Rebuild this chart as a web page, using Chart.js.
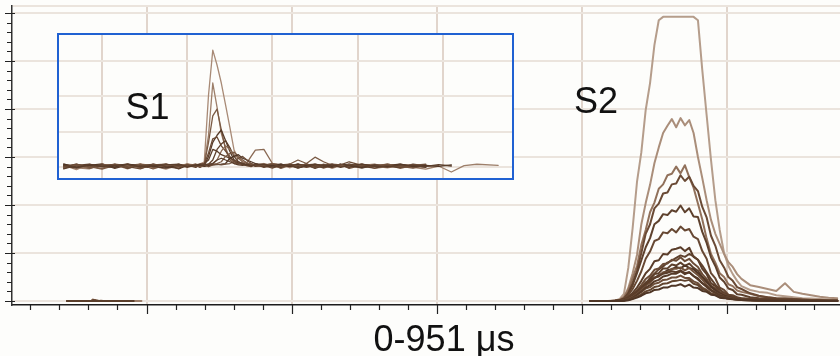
<!DOCTYPE html>
<html>
<head>
<meta charset="utf-8">
<script src="https://cdn.jsdelivr.net/npm/chart.js@4.4.1/dist/chart.umd.min.js"></script>
<style>
  html, body { margin: 0; padding: 0; background: #fdfdfb; overflow: hidden; }
  #wrap { position: relative; width: 840px; height: 356px; }
  #main { position: absolute; left: 0; top: 0; }
  #inset {
    position: absolute; left: 57px; top: 33px; width: 457px; height: 147px;
    box-sizing: border-box; border: 2px solid #2061d2; background: #fdfdfb;
  }
  #inset canvas { display: block; }
</style>
</head>
<body>
<div id="wrap">
  <canvas id="main" width="840" height="356"></canvas>
  <div id="inset"><canvas id="zoom" width="453" height="143"></canvas></div>
</div>
<script>
// ---- S2 window: sample times and pulse amplitudes ----
const S2_T = [406, 412, 418, 420, 423, 426, 429, 432, 435, 438, 441, 444, 447, 450, 453, 456, 459, 462, 465, 468,
              471, 474, 477, 480, 483, 486, 489, 492, 495, 498, 501, 504, 507, 510, 516, 522, 528, 534, 540, 546,
              552, 558, 564, 570, 576];

const S2_A = [0,0,0,0.5,1,4,15,69,152,248, 310,398,454,533,585,592,592,592,592,592, 592,592,592,585,481,387,294,210,148,100, 73,56,42,31,23,19,17,12,10,8, 6,5,4,3,2];
const S2_B = [0,0,0,0,1,3,8,27,58,96, 160,204,242,287,320,350,365,379,362,381, 366,377,350,300,256,210,169,140,119,98, 81,71,56,46,33,29,25,21,37,19, 15,12,9,7,6];
const S2_C = [0,0,0,0,0.5,2,8,23,48,73, 117,148,185,205,234,243,262,265,280,266, 283,258,236,203,170,130,98,80,58,50, 35,31,22,19,15,10,8,6,5,4, 3,2,2,1,1];
const S2_D = [0,0,0,0,0.5,1.5,5,17,38,63, 100,140,160,193,203,224,226,243,245,262, 250,259,240,229,196,174,136,115,85,70, 50,42,29,25,16,11,8,6,5,4, 3,2,2,1,1];
const S2_E = [0,0,0,0,0.5,1.5,5,15,33,58, 85,112,131,160,167,181,179,189,186,199, 185,193,176,175,144,121,91,73,49,40, 26,23,14,13,8,6,5,4,3,3, 2,2,1,1,1];
const S2_F = [0,0,0,0,0.5,1,4,12,25,42, 62,88,103,125,129,143,141,150,143,155, 147,150,134,129,104,88,58,47,28,23, 13,12,8,6,4,3,2,2,1,1, 1,0.5,0.5,0.5,0.5];
const S2_G = [0,0,0,0,0,1,3,8,17,28, 42,58,67,83,85,98,97,107,109,112, 104,111,92,86,67,56,37,31,19,16, 10,9,6,4,3,2,2,1,1,1, 0.5,0.5,0.5,0,0];
const S2_H = [0,0,0,0,0,1,2,6,13,22, 33,46,53,65,68,77,78,86,84,91, 83,88,78,71,56,46,32,26,17,14, 9,7,5,4,3,2,1.5,1,1,0.5, 0.5,0.5,0,0,0];
const S2_I = [0,0,0,0,0,0.5,2,5,11,19, 28,39,44,56,58,68,68,76,74,80, 73,78,69,63,50,42,29,24,16,12, 9,7,5,4,3,2,1.5,1,1,0.5, 0.5,0,0,0,0];
const S2_J = [0,0,0,0,0,0.5,1.5,4,9,16, 24,33,38,49,51,60,60,67,67,70, 64,69,61,54,45,33,24,18,13,9, 7,5,4,3,2,1.5,1,1,0.5,0.5, 0,0,0,0,0];
const S2_K = [0,0,0,0,0,0.5,1,3,7,13, 20,28,33,41,44,51,53,57,57,62, 56,60,52,47,37,31,22,18,11,9, 6,5,4,3,2,1.5,1,1,0.5,0.5, 0,0,0,0,0];
const S2_L = [0,0,0,0,0,0,1,2,5,9, 14,20,23,29,31,36,37,41,42,44, 42,44,36,33,25,22,15,13,8,7, 5,4,3,2,1.5,1,1,0.5,0.5,0, 0,0,0,0,0];
const S2_M = [0,0,0,0,0,0,0.5,1.5,4,7, 11,16,18,23,24,28,28,32,32,35, 30,34,28,27,21,19,13,12,7,6, 4.5,3.5,3,2,1.5,1,1,0.5,0.5,0, 0,0,0,0,0];
const S2_N = [0,0,0,0,0,0.5,1.5,4,8,13, 19,26,29,36,38,44,45,49,49,53, 48,48,41,37,28,23,16,14,9,7, 5,4,3,2,1.5,1,1,0.5,0.5,0, 0,0,0,0,0];
const S2_O = [0,0,0,0,0,0.5,1.5,4,9,16, 26,36,48,57,66,72,80,84,90,95, 92,98,93,86,74,60,46,34,24,17, 12,9,7,5,4,3,2,1.5,1,1, 0.5,0.5,0,0,0];
const S2_P = [0,0,0,0,0,0.5,2,5,10,17, 25,33,41,48,54,58,64,66,71,68, 74,69,66,58,49,39,30,22,16,11, 8,6,4,3,2,1.5,1,1,0.5,0.5, 0,0,0,0,0];
const S2_Q = [0,0,0,0,0.5,1,3,7,13,20, 28,35,42,48,52,57,59,62,60,64, 58,60,52,45,37,29,22,16,12,8, 6,4,3,2,1.5,1,1,0.5,0.5,0, 0,0,0,0,0];

// ---- S1 window: sample times and pulse amplitudes (null = trace ended) ----
const S1_T = [45.5, 47, 48.5, 50, 51.5, 53, 54.5, 56, 57.5, 59, 60, 61, 61.5, 62, 62.5, 63, 63.5, 64, 64.5, 65,
              65.5, 66, 66.5, 67, 67.5, 68, 69, 70, 71, 72, 73, 74, 75, 76, 77, 78, 79, 80.5, 82, 83.5,
              85, 86.5, 88, 89.5, 91, 92.5, 94, 96.5];

const S1_A = [0.05,-0.07,0.08,0.0,0.06,-0.05,0.09,0.03,-0.06,0.05, 0.08,0.06,0.09,0.14,2.04,3.31,2.89,2.38,1.76,1.13, 0.48,0.25,0.15,0.1,0.08,0.05,0.1,0.02,0.07,-0.02, 0.06,0.0,0.05,0.07,-0.04,0.05,0.01,0.07,0.03,-0.02, 0.05,0.01,0.06,null,null,null,null,null];
const S1_B = [0.06,-0.02,-0.05,0.08,0.01,0.09,-0.04,0.05,0.03,-0.01, 0.09,0.03,0.07,0.12,0.9,2.38,1.7,0.95,0.55,0.25, 0.12,0.1,0.08,0.06,0.07,0.03,0.1,0.02,-0.02,0.08, 0.02,0.09,0.01,0.05,-0.01,0.06,0.02,0.08,-0.04,0.01, 0.06,-0.01,-0.06,0.03,-0.14,0.04,0.08,0.05];
const S1_C = [-0.04,0.07,0.01,-0.06,0.05,-0.01,0.08,-0.05,0.06,0.01, 0.03,0.08,0.04,0.07,0.7,1.45,1.64,1.05,0.5,0.2, 0.1,0.14,0.06,0.04,0.09,0.03,0.02,0.08,-0.04,0.05, 0.08,0.01,0.06,-0.03,0.05,0.02,0.08,-0.01,0.05,0.06, -0.04,0.05,0.01,null,null,null,null,null];
const S1_D = [0.08,0.01,0.05,0.09,-0.04,0.06,0.02,-0.02,0.08,-0.05, 0.05,0.02,0.06,0.04,0.3,0.7,0.9,1.05,0.75,0.45, 0.2,0.1,0.08,0.05,0.03,0.09,0.02,0.06,-0.01,0.08, 0.02,0.06,-0.04,0.05,0.08,0.01,0.05,-0.03,0.06,0.02, -0.01,0.08,0.03,null,null,null,null,null];
const S1_E = [-0.01,0.08,-0.04,0.05,0.07,0.01,-0.05,0.08,0.02,0.06, -0.01,0.06,0.02,0.08,0.4,0.8,0.85,0.6,0.45,0.3, 0.15,0.08,0.12,0.04,0.01,0.08,0.04,-0.03,0.06,0.02, 0.08,-0.01,0.05,0.06,0.0,0.08,-0.04,0.05,0.01,0.08, 0.02,-0.03,0.06,null,null,null,null,null];
const S1_F = [0.03,-0.03,0.06,0.02,0.08,-0.04,0.05,0.06,-0.01,0.08, 0.02,0.05,-0.01,0.06,0.08,0.2,0.5,0.65,0.75,0.55, 0.3,0.15,0.1,0.06,0.07,0.02,0.06,0.09,0.01,0.05, -0.03,0.06,0.08,0.02,-0.01,0.05,0.08,0.02,-0.03,0.05, 0.08,0.02,0.0,null,null,null,null,null];
const S1_G = [0.06,0.02,-0.02,0.08,0.02,0.05,0.08,-0.03,0.05,0.02, 0.08,0.01,0.06,0.02,0.07,0.1,0.2,0.45,0.6,0.5, 0.35,0.25,0.15,0.12,0.3,0.48,0.5,0.1,0.06,0.02, 0.06,0.04,-0.01,0.08,0.02,0.06,0.0,0.05,0.08,-0.01, 0.05,0.06,0.02,0.04,null,null,null,null];
const S1_H = [-0.05,0.05,0.08,0.01,-0.01,0.06,0.02,0.08,0.01,-0.04, 0.06,-0.01,0.08,0.1,0.2,0.5,0.45,0.35,0.3,0.25, 0.2,0.15,0.1,0.06,0.05,0.08,-0.01,0.05,0.08,0.01, 0.05,0.08,0.02,-0.01,0.06,0.04,-0.01,0.08,0.02,0.05, 0.0,0.06,-0.01,null,null,null,null,null];
const S1_I = [0.01,0.06,0.02,-0.04,0.08,0.04,-0.01,0.06,0.08,0.02, 0.04,0.08,0.01,0.05,0.06,0.08,0.1,0.15,0.3,0.38, 0.42,0.3,0.2,0.12,0.08,0.06,0.05,0.1,0.06,0.08, 0.2,0.1,0.28,0.15,0.05,0.03,0.06,0.0,0.04,0.08, 0.02,-0.01,0.05,null,null,null,null,null];
const S1_J = [0.08,-0.01,0.05,0.06,0.0,0.08,0.04,0.02,-0.03,0.06, 0.01,0.05,0.08,0.02,0.04,0.06,0.07,0.08,0.1,0.25, 0.3,0.35,0.25,0.2,0.15,0.1,0.06,0.03,0.08,0.02, 0.08,0.04,0.0,0.06,0.02,0.08,0.04,-0.01,0.06,0.02, 0.08,0.01,0.05,0.02,0.06,null,null,null];
const S1_K = [0.02,0.08,0.0,0.05,0.06,-0.02,0.06,0.04,0.08,0.02, 0.06,0.02,0.05,0.08,0.01,0.06,0.08,0.06,0.08,0.1, 0.15,0.25,0.3,0.2,0.1,0.06,0.04,0.08,0.02,0.06, 0.04,0.08,0.0,0.05,0.08,0.06,0.15,0.05,0.02,0.06, 0.0,0.05,0.08,null,null,null,null,null];
const S1_L = [0.05,0.0,0.06,0.02,0.05,0.08,0.0,0.05,0.06,0.08, 0.01,0.06,0.04,0.06,0.08,0.1,0.2,0.25,0.2,0.15, 0.1,0.06,0.05,0.09,0.03,0.06,0.08,0.0,0.05,0.06, -0.02,0.02,0.08,0.04,0.06,-0.01,0.05,0.08,0.02,0.0, 0.06,0.04,0.02,0.07,0.03,null,null,null];

// Axis tick values (no labels are shown)
const X_TICKS = [];
for (let v = 20; v <= 560; v += 20) X_TICKS.push(v);
const Y_TICKS = [];
for (let v = 0; v <= 600; v += 20) Y_TICKS.push(v);
const ZOOM_X_TICKS = [50, 60, 70, 80, 90];
const ZOOM_Y_TICKS = [0, 1, 2, 3];

// Text
const AXIS_TITLE = '0-951 μs';
const S1_LABEL = 'S1';
const S2_LABEL = 'S2';

// ---- styling ----
const S2_LIST = [
  [S2_M, '#4f3626'], [S2_L, '#62452f'], [S2_K, '#553a28'], [S2_N, '#6e4f3a'], [S2_Q, '#5a3d2a'],
  [S2_J, '#70513b'], [S2_P, '#4f3626'], [S2_I, '#5c3f2b'], [S2_H, '#6b4c37'], [S2_O, '#5e412d'],
  [S2_G, '#5a3d2a'], [S2_F, '#674833'], [S2_E, '#5e412d'], [S2_D, '#6a4a35'], [S2_C, '#91715b'],
  [S2_B, '#aa8e7a'], [S2_A, '#b59d8b']
];
const S1_LIST = [
  [S1_L, '#5a3e2b'], [S1_K, '#6b4c37'], [S1_J, '#4f3626'], [S1_I, '#7a5a44'], [S1_H, '#5c3f2c'],
  [S1_G, '#8a6a54'], [S1_F, '#5e412d'], [S1_E, '#6a4a35'], [S1_D, '#553a28'], [S1_C, '#7a5a44'],
  [S1_B, '#9d7f6a'], [S1_A, '#a88a76']
];

const FONT = "'Liberation Sans', Arial, sans-serif";
const GRID_H = '#ebe4dd';
const GRID_V = '#e1d5cc';
const CLEAR = 'rgba(0,0,0,0)';

function points(ts, vs) {
  const out = [];
  ts.forEach((t, i) => { if (vs[i] !== null && vs[i] !== undefined) out.push({ x: t, y: vs[i] }); });
  return out;
}
function lineSet(ts, vs, color, width) {
  return { data: points(ts, vs), borderColor: color, borderWidth: width, pointRadius: 0,
           tension: 0, borderJoinStyle: 'round', borderCapStyle: 'round', fill: false };
}

// main plot ranges
const X_MIN = 7.3, X_MAX = 577.9;
const Y_MIN = -8.3, Y_MAX = 614.6;

const mainTicks = {
  id: 'mainTicks',
  afterDraw(chart) {
    const { ctx, chartArea: a, scales: { x, y } } = chart;
    ctx.save();
    ctx.strokeStyle = '#222';
    ctx.lineWidth = 1.2;
    ctx.beginPath();
    X_TICKS.forEach(v => {
      const px = Math.round(x.getPixelForValue(v)) + 0.5;
      const len = v % 100 === 0 ? 9 : 5;
      ctx.moveTo(px, a.bottom);
      ctx.lineTo(px, a.bottom + len);
    });
    Y_TICKS.forEach(v => {
      const py = Math.round(y.getPixelForValue(v)) + 0.5;
      const major = v % 100 === 0;
      ctx.moveTo(a.left - (major ? 7 : 5), py);
      ctx.lineTo(a.left + (major ? 3 : 0), py);
    });
    ctx.stroke();
    // axis title and pulse label
    ctx.fillStyle = '#111';
    ctx.font = '36px ' + FONT;
    ctx.textBaseline = 'alphabetic';
    ctx.textAlign = 'center';
    ctx.fillText(AXIS_TITLE, 444, 351);
    ctx.textAlign = 'left';
    ctx.fillText(S2_LABEL, 574, 113);
    ctx.restore();
  }
};

const datasetsMain = [];
S1_LIST.forEach(([vs, c]) => datasetsMain.push(lineSet(S1_T, vs, c, 2)));
S2_LIST.forEach(([vs, c]) => datasetsMain.push(lineSet(S2_T, vs, c, 2)));

new Chart(document.getElementById('main'), {
  type: 'line',
  data: { datasets: datasetsMain },
  options: {
    responsive: false, animation: false, devicePixelRatio: 1,
    layout: { padding: { left: 12, top: 6, right: 0, bottom: 51 } },
    plugins: { legend: { display: false }, tooltip: { enabled: false } },
    scales: {
      x: {
        type: 'linear', min: X_MIN, max: X_MAX,
        afterBuildTicks: s => { s.ticks = X_TICKS.map(v => ({ value: v })); },
        ticks: { display: false },
        grid: { drawTicks: false, lineWidth: 2,
                color: c => (c.tick && c.tick.value % 100 === 0) ? GRID_V : CLEAR },
        border: { display: true, color: '#1c1c1c', width: 1.5 }
      },
      y: {
        type: 'linear', min: Y_MIN, max: Y_MAX,
        afterBuildTicks: s => { s.ticks = Y_TICKS.map(v => ({ value: v })).concat([{ value: Y_MAX }]); },
        ticks: { display: false },
        grid: { drawTicks: false, lineWidth: 2,
                color: c => (c.tick && (c.tick.value % 100 === 0 || c.tick.value === Y_MAX)) ? GRID_H : CLEAR },
        border: { display: true, color: '#333', width: 1.5 }
      }
    }
  },
  plugins: [mainTicks]
});

// ---- magnified S1 view ----
const zoomLabel = {
  id: 'zoomLabel',
  afterDraw(chart) {
    const { ctx } = chart;
    ctx.save();
    ctx.fillStyle = '#111';
    ctx.font = '36px ' + FONT;
    ctx.textBaseline = 'alphabetic';
    ctx.textAlign = 'left';
    ctx.fillText(S1_LABEL, 66.6, 84.3);
    ctx.restore();
  }
};

new Chart(document.getElementById('zoom'), {
  type: 'line',
  data: { datasets: S1_LIST.map(([vs, c]) => lineSet(S1_T, vs, c, 1.3)) },
  options: {
    responsive: false, animation: false, devicePixelRatio: 1,
    layout: { padding: 0 },
    plugins: { legend: { display: false }, tooltip: { enabled: false } },
    scales: {
      x: {
        type: 'linear', min: 44.95, max: 98.12,
        afterBuildTicks: s => { s.ticks = ZOOM_X_TICKS.map(v => ({ value: v })); },
        ticks: { display: false },
        grid: { drawTicks: false, lineWidth: 2, color: GRID_V },
        border: { display: false }
      },
      y: {
        type: 'linear', min: -0.31, max: 3.74,
        afterBuildTicks: s => { s.ticks = ZOOM_Y_TICKS.map(v => ({ value: v })); },
        ticks: { display: false },
        grid: { drawTicks: false, lineWidth: 2, color: GRID_H },
        border: { display: false }
      }
    }
  },
  plugins: [zoomLabel]
});
</script>
</body>
</html>
